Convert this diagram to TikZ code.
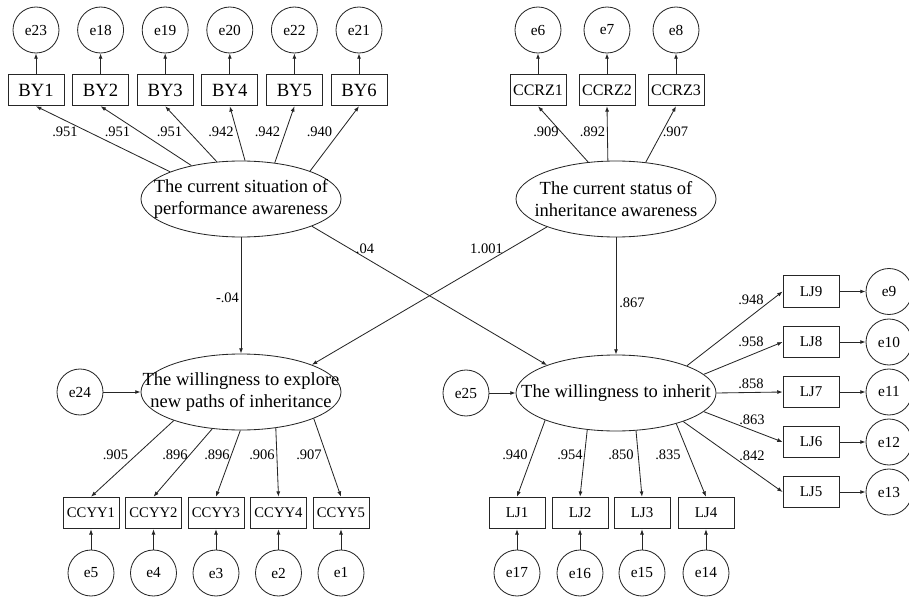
\documentclass[tikz,border=0pt]{standalone}
\usepackage{fontspec}
\setmainfont{Liberation Serif}
\usetikzlibrary{shapes.geometric,arrows.meta}

\begin{document}
\begin{tikzpicture}[x=0.6pt, y=-0.6pt,
    >={Latex[length=3.2pt,width=2.4pt]},
    % Node styles
    latent/.style={ellipse, draw=black!85, line width=0.5pt, inner sep=0pt,
                   minimum width=120pt, minimum height=45.6pt},
    lattxt/.style={font=\fontsize{11.1}{13.2}\selectfont, align=center, inner sep=0pt},
    obs/.style={draw=black!85, line width=0.5pt, inner sep=0pt, minimum width=33.6pt,
                minimum height=19pt, font=\fontsize{9}{10}\selectfont},
    err/.style={circle, draw=black!85, line width=0.5pt, inner sep=0pt, minimum size=27.6pt,
                font=\fontsize{9.2}{10}\selectfont},
    coef/.style={font=\fontsize{8.7}{10}\selectfont, inner sep=0pt},
    arr/.style={->, line width=0.5pt, draw=black!85},
  ]
  \useasboundingbox (0,0) rectangle (909,599);

  % ===== Latent variables =====
  \node[latent, label={[lattxt]center:{The current situation of\\performance awareness}}]
    (E1) at (241,199) {};
  \node[latent, label={[lattxt]center:{The current status of\\inheritance awareness}}]
    (E2) at (616,199) {};
  \node[latent, label={[lattxt]center:{The willingness to explore\\new paths of inheritance}}]
    (E3) at (241,392) {};
  \node[latent, label={[lattxt]center:{The willingness to inherit}}]
    (E4) at (616,393) {};

  % ===== Top left: BY =====
  \node[obs, font=\fontsize{11.2}{12}\selectfont] (BY1) at (36,90) {BY1};
  \node[obs, font=\fontsize{11.2}{12}\selectfont] (BY2) at (100.6,90) {BY2};
  \node[obs, font=\fontsize{11.2}{12}\selectfont] (BY3) at (165.2,90) {BY3};
  \node[obs, font=\fontsize{11.2}{12}\selectfont] (BY4) at (229.8,90) {BY4};
  \node[obs, font=\fontsize{11.2}{12}\selectfont] (BY5) at (294.4,90) {BY5};
  \node[obs, font=\fontsize{11.2}{12}\selectfont] (BY6) at (359,90) {BY6};
  \node[err] (e23) at (36,30) {e23};
  \node[err] (e18) at (100.6,30) {e18};
  \node[err] (e19) at (165.2,30) {e19};
  \node[err] (e20) at (229.8,30) {e20};
  \node[err] (e22) at (294.4,30) {e22};
  \node[err] (e21) at (359,30) {e21};
  \draw[arr] (BY1) -- (e23);
  \draw[arr] (BY2) -- (e18);
  \draw[arr] (BY3) -- (e19);
  \draw[arr] (BY4) -- (e20);
  \draw[arr] (BY5) -- (e22);
  \draw[arr] (BY6) -- (e21);
  \draw[arr] (E1.159.4) -- (BY1.south);
  \draw[arr] (E1.146) -- (BY2.south);
  \draw[arr] (E1.123) -- (BY3.south);
  \draw[arr] (E1.84) -- (BY4.south);
  \draw[arr] (E1.47) -- (BY5.south);
  \draw[arr] (E1.22.8) -- (BY6.south);
  \node[coef] (cBY1) at (65,132) {.951};
  \node[coef] (cBY2) at (117.5,132) {.951};
  \node[coef] (cBY3) at (169.5,132) {.951};
  \node[coef] (cBY4) at (221,132) {.942};
  \node[coef] (cBY5) at (267.5,132) {.942};
  \node[coef] (cBY6) at (319.5,132) {.940};

  % ===== Top right: CCRZ =====
  \node[obs, font=\fontsize{9.6}{11}\selectfont] (CCRZ1) at (538,90) {CCRZ1};
  \node[obs, font=\fontsize{9.6}{11}\selectfont] (CCRZ2) at (607,90) {CCRZ2};
  \node[obs, font=\fontsize{9.6}{11}\selectfont] (CCRZ3) at (676,90) {CCRZ3};
  \node[err] (e6) at (538,30) {e6};
  \node[err] (e7) at (607,30) {e7};
  \node[err] (e8) at (676,30) {e8};
  \draw[arr] (CCRZ1) -- (e6);
  \draw[arr] (CCRZ2) -- (e7);
  \draw[arr] (CCRZ3) -- (e8);
  \draw[arr] (E2.127.5) -- (CCRZ1.south);
  \draw[arr] (E2.102) -- (CCRZ2.south);
  \draw[arr] (E2.51.5) -- (CCRZ3.south);
  \node[coef] (cCCRZ1) at (546,132) {.909};
  \node[coef] (cCCRZ2) at (592.5,132) {.892};
  \node[coef] (cCCRZ3) at (675.5,132) {.907};

  % ===== Structural paths =====
  \draw[arr] (E1) -- (E3);
  \draw[arr] (E2) -- (E4);
  \draw[arr] (E1.-21.5) -- (E4.158.5);
  \draw[arr] (E2.-158.5) -- (E3.21);
  \node[coef] (c13) at (227.5,298) {-.04};
  \node[coef] (c14) at (365,249) {.04};
  \node[coef] (c23) at (486.5,249) {1.001};
  \node[coef] (c24) at (632,303) {.867};

  % residuals of the endogenous factors
  \node[err] (e24) at (80,392) {e24};
  \node[err] (e25) at (466,393) {e25};
  \draw[arr] (e24) -- (E3);
  \draw[arr] (e25) -- (E4);

  % ===== Bottom left: CCYY =====
  \node[obs, font=\fontsize{8.8}{10}\selectfont] (CCYY1) at (91,513) {CCYY1};
  \node[obs, font=\fontsize{8.8}{10}\selectfont] (CCYY2) at (153.5,513) {CCYY2};
  \node[obs, font=\fontsize{8.8}{10}\selectfont] (CCYY3) at (216,513) {CCYY3};
  \node[obs, font=\fontsize{8.8}{10}\selectfont] (CCYY4) at (278.5,513) {CCYY4};
  \node[obs, font=\fontsize{8.8}{10}\selectfont] (CCYY5) at (341,513) {CCYY5};
  \node[err] (e5) at (91,573) {e5};
  \node[err] (e4) at (153.5,573) {e4};
  \node[err] (e3) at (216,573) {e3};
  \node[err] (e2) at (278.5,573) {e2};
  \node[err] (e1) at (341,573) {e1};
  \draw[arr] (e5) -- (CCYY1);
  \draw[arr] (e4) -- (CCYY2);
  \draw[arr] (e3) -- (CCYY3);
  \draw[arr] (e2) -- (CCYY4);
  \draw[arr] (e1) -- (CCYY5);
  \draw[arr] (E3.203) -- (CCYY1.north);
  \draw[arr] (E3.232.5) -- (CCYY2.north);
  \draw[arr] (E3.269) -- (CCYY3.north);
  \draw[arr] (E3.-46.4) -- (CCYY4.north);
  \draw[arr] (E3.-20.7) -- (CCYY5.north);
  \node[coef] (cCCYY1) at (115.5,455) {.905};
  \node[coef] (cCCYY2) at (175,455) {.896};
  \node[coef] (cCCYY3) at (217,455) {.896};
  \node[coef] (cCCYY4) at (262,455) {.906};
  \node[coef] (cCCYY5) at (309,455) {.907};

  % ===== Bottom right: LJ1-LJ4 =====
  \node[obs] (LJ1) at (517,513) {LJ1};
  \node[obs] (LJ2) at (580,513) {LJ2};
  \node[obs] (LJ3) at (642,513) {LJ3};
  \node[obs] (LJ4) at (706,513) {LJ4};
  \node[err] (e17) at (517,573) {e17};
  \node[err] (e16) at (580,573) {e16};
  \node[err] (e15) at (642,573) {e15};
  \node[err] (e14) at (706,573) {e14};
  \draw[arr] (e17) -- (LJ1);
  \draw[arr] (e16) -- (LJ2);
  \draw[arr] (e15) -- (LJ3);
  \draw[arr] (e14) -- (LJ4);
  \draw[arr] (E4.201) -- (LJ1.north);
  \draw[arr] (E4.232.5) -- (LJ2.north);
  \draw[arr] (E4.-62.7) -- (LJ3.north);
  \draw[arr] (E4.-27.5) -- (LJ4.north);
  \node[coef] (cLJ1) at (515,455) {.940};
  \node[coef] (cLJ2) at (570,455) {.954};
  \node[coef] (cLJ3) at (621,455) {.850};
  \node[coef] (cLJ4) at (668,455) {.835};

  % ===== Right column: LJ9-LJ5 =====
  \node[obs] (LJ9) at (811,291.5) {LJ9};
  \node[obs] (LJ8) at (811,342) {LJ8};
  \node[obs] (LJ7) at (811,392) {LJ7};
  \node[obs] (LJ6) at (811,442) {LJ6};
  \node[obs] (LJ5) at (811,492) {LJ5};
  \node[err] (e9) at (889,291.5) {e9};
  \node[err] (e10) at (889,342) {e10};
  \node[err] (e11) at (889,392) {e11};
  \node[err] (e12) at (889,442) {e12};
  \node[err] (e13) at (889,492) {e13};
  \draw[arr] (LJ9) -- (e9);
  \draw[arr] (LJ8) -- (e10);
  \draw[arr] (LJ7) -- (e11);
  \draw[arr] (LJ6) -- (e12);
  \draw[arr] (LJ5) -- (e13);
  \draw[arr] (E4.21) -- (LJ9.west);
  \draw[arr] (E4.12) -- (LJ8.west);
  \draw[arr] (E4.0) -- (LJ7.west);
  \draw[arr] (E4.-12.7) -- (LJ6.west);
  \draw[arr] (E4.-23) -- (LJ5.west);
  \node[coef] (cLJ9) at (751,300) {.948};
  \node[coef] (cLJ8) at (751,342) {.958};
  \node[coef] (cLJ7) at (751,384) {.858};
  \node[coef] (cLJ6) at (752,420) {.863};
  \node[coef] (cLJ5) at (752,456) {.842};

\end{tikzpicture}
\end{document}
